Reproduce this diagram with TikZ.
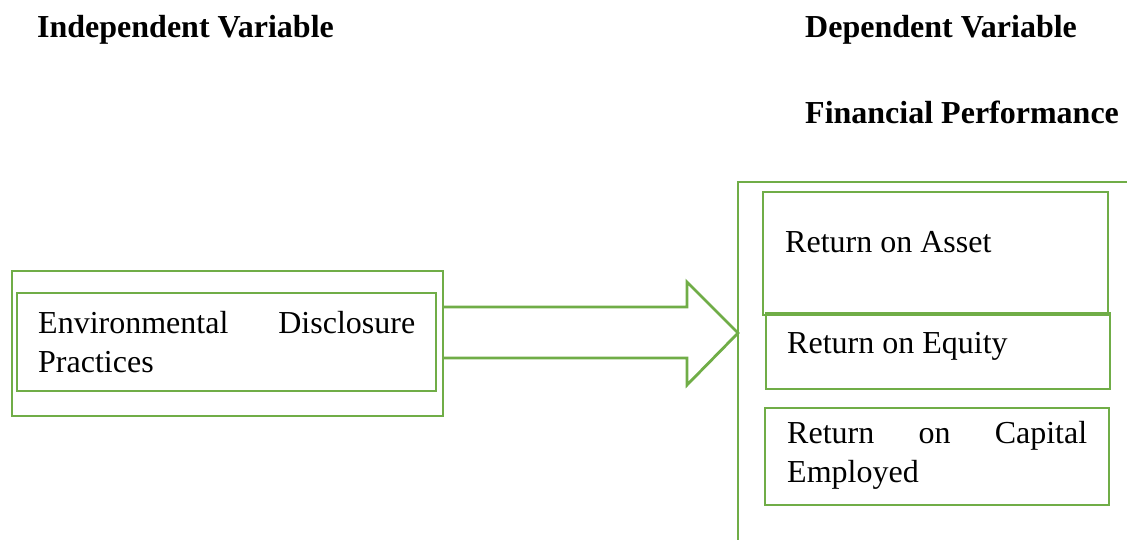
\documentclass[tikz,border=0pt]{standalone}
\usepackage{fontspec}
\setmainfont{Liberation Serif}
\usepackage{tikz}
\usetikzlibrary{positioning}
\definecolor{boxgreen}{RGB}{112,173,71}
\tikzstyle{frame} = [rectangle, draw=boxgreen, line width=2.8pt, inner sep=0pt, outer sep=0pt]
\tikzstyle{blockarrow} = [draw=boxgreen, line width=2.8pt, line join=miter]
\tikzstyle{vartext} = [anchor=base west, inner sep=0pt, font=\fontsize{32}{39}\selectfont]
\tikzstyle{head} = [vartext, font=\fontsize{32}{39}\selectfont\bfseries]
\tikzstyle{para} = [vartext, align=justify]

\begin{document}
\hyphenpenalty=10000
\begin{tikzpicture}[x=1pt, y=-1pt]
\useasboundingbox (0,0) rectangle (1127,539);
\clip (0,0) rectangle (1127,539);

% headings
\node(Ind)[head] at (37,37) {Independent Variable};
\node(Dep)[head] at (805,37) {Dependent Variable};
\node(Fin)[head] at (805,123) {Financial Performance};

% independent side
\node(Lout)[frame, minimum width=431pt, minimum height=145pt] at (227.5,343.5) {};
\node(Lin)[frame, minimum width=419pt, minimum height=98pt] at (226.5,342) {};
\node(EDP)[para, text width=377pt] at (38,333) {Environmental Disclosure Practices};

% dependent side
\node(Rout)[frame, minimum width=422pt, minimum height=398pt] at (949,381) {};
\node(ROA)[frame, minimum width=345pt, minimum height=123pt] at (935.5,253.5) {};
\node(ROE)[frame, minimum width=344pt, minimum height=76pt] at (938,351) {};
\node(ROCE)[frame, minimum width=344pt, minimum height=97pt] at (937,456.5) {};
\node(tROA)[vartext] at (785,252) {Return on Asset};
\node(tROE)[vartext] at (787,353) {Return on Equity};
\node(tROCE)[para, text width=300pt] at (787,443) {Return on Capital Employed};

\coordinate (tip) at (738,333);
\draw [blockarrow] ([yshift=36.5pt]Lout.east) -| ++(244,-25) -- (tip) -- (687,385) |- ([yshift=-14.5pt]Lout.east);

\end{tikzpicture}
\end{document}
